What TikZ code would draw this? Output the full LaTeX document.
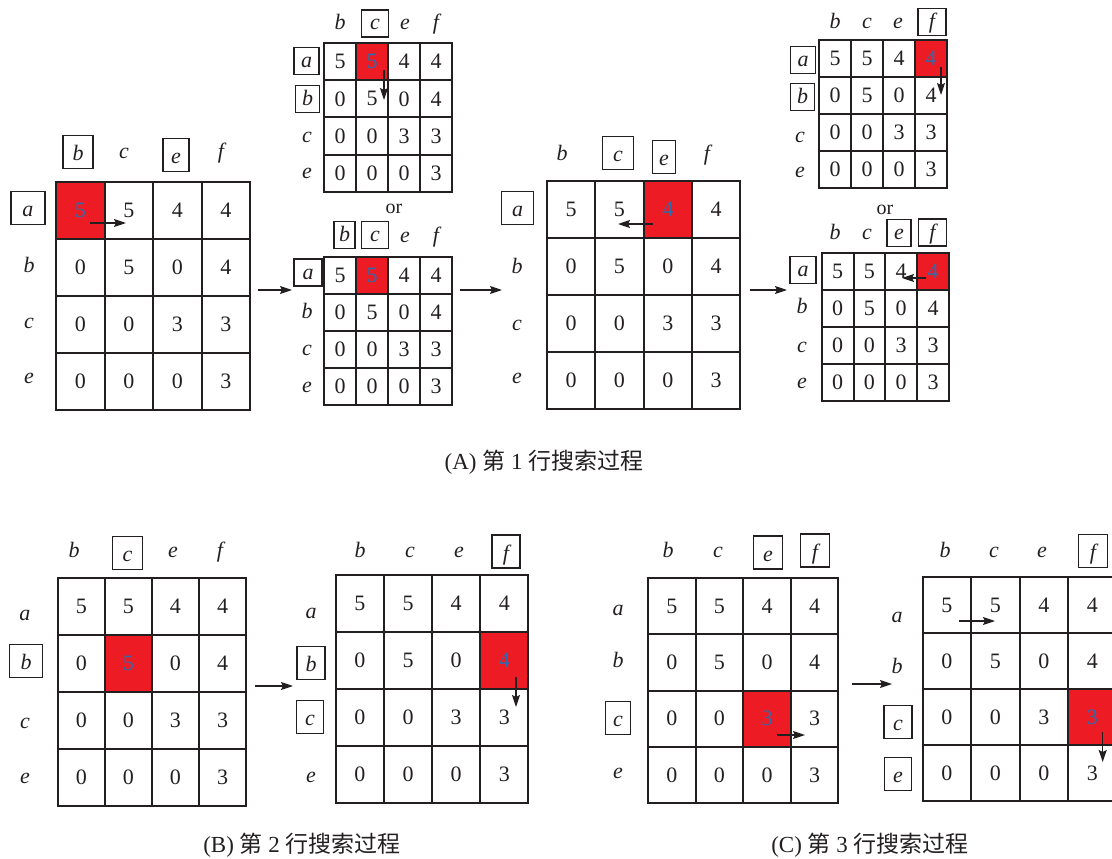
\documentclass[tikz,border=0pt]{standalone}
\usepackage{fontspec}
\setmainfont{Liberation Serif}
\newfontfamily\cjk{Noto Sans CJK SC}
\usetikzlibrary{arrows.meta}
\definecolor{myred}{HTML}{ED1C24}
\definecolor{myblue}{HTML}{2B6CB0}
\definecolor{ink}{HTML}{231F20}
\tikzset{
 cell/.style={inner sep=0pt,font=\fontsize{22}{24}\selectfont,text=ink},
 gridline/.style={draw=ink,line width=2pt,line cap=rect},
 lab/.style={inner sep=0pt,font=\fontsize{22}{24}\selectfont\itshape,text=ink,text height=15pt,text depth=4pt},
 bigbox/.style={lab,draw=ink,line width=1.6pt,text height=25pt,text depth=8pt},
 smallbox/.style={lab,draw=ink,line width=1.5pt,text height=20pt,text depth=7pt},
 arr/.style={draw=ink,line width=1.3pt,-{Stealth[length=12pt,width=8pt,inset=2pt]}},
 captext/.style={font=\fontsize{23}{25}\selectfont,text=ink,inner sep=0pt},
 ortext/.style={font=\fontsize{20}{22}\selectfont,text=ink,inner sep=0pt},
}
\newcommand\mymat[7]{%
 \foreach \v [count=\i from 0] in {5,5,4,4,0,5,0,4,0,0,3,3,0,0,0,3}{%
  \pgfmathtruncatemacro\rr{div(\i,4)+1}%
  \pgfmathtruncatemacro\cc{mod(\i,4)+1}%
  \pgfmathtruncatemacro\isred{(\rr==#6)*(\cc==#7)}%
  \ifnum\isred=1\relax
   \node[cell,fill=myred,text=myblue,minimum width=#4pt,minimum height=#5pt] (#1-\rr-\cc) at ({#2+(\cc-0.5)*#4},{#3+(\rr-0.5)*#5}) {\v};
  \else
   \node[cell,minimum width=#4pt,minimum height=#5pt] (#1-\rr-\cc) at ({#2+(\cc-0.5)*#4},{#3+(\rr-0.5)*#5}) {\v};
  \fi
 }
 \pgfmathsetmacro\xa{round(#2)}\pgfmathsetmacro\xb{round(#2+4*#4)}%
 \pgfmathsetmacro\ya{round(#3)}\pgfmathsetmacro\yb{round(#3+4*#5)}%
 \foreach \k in {0,...,4}{%
  \pgfmathsetmacro\xk{round(#2+\k*#4)}%
  \pgfmathsetmacro\yk{round(#3+\k*#5)}%
  \draw[gridline] (\xk,\ya) -- (\xk,\yb);
  \draw[gridline] (\xa,\yk) -- (\xb,\yk);
 }}
\begin{document}
\begin{tikzpicture}[x=1pt,y=-1pt]
\useasboundingbox (0,0) rectangle (1112,859);

% ---------------- A1
\mymat{A1}{56}{182}{48.5}{57}{1}{1}
\node[bigbox,minimum width=30pt] (A1hb) at (78,152) {b};
\node[lab] (A1hc) at (124,153) {c};
\node[bigbox,minimum width=26pt] (A1he) at (176,155) {e};
\node[lab] (A1hf) at (221,153) {f};
\node[bigbox,minimum width=34pt] (A1ra) at (28,208) {a};
\node[lab] (A1rb) at (29,267) {b};
\node[lab] (A1rc) at (29,323) {c};
\node[lab] (A1re) at (29,378) {e};
\coordinate (A1s) at (90,223); \coordinate (A1t) at (126,223);
\draw[arr] (A1s) -- (A1t);

% ---------------- A2
\mymat{A2}{324}{43}{32}{37.2}{1}{2}
\node[lab] (A2hb) at (340,24) {b};
\node[smallbox,minimum width=27pt] (A2hc) at (375,23.5) {c};
\node[lab] (A2he) at (405,24) {e};
\node[lab] (A2hf) at (436,24) {f};
\node[smallbox,minimum width=25pt] (A2ra) at (306.5,61) {a};
\node[smallbox,minimum width=24pt] (A2rb) at (307.5,99) {b};
\node[lab] (A2rc) at (307,137) {c};
\node[lab] (A2re) at (307,173) {e};
\coordinate (A2s) at (384,70); \coordinate (A2t) at (384,100);
\draw[arr] (A2s) -- (A2t);
\node[ortext] (or1) at (394,209) {or};

% ---------------- A3
\mymat{A3}{324}{257}{32}{37}{1}{2}
\node[smallbox,minimum width=21pt] (A3hb) at (344.5,235) {b};
\node[smallbox,minimum width=27pt] (A3hc) at (375,235) {c};
\node[lab] (A3he) at (405,237) {e};
\node[lab] (A3hf) at (436,237) {f};
\node[smallbox,minimum width=28pt] (A3ra) at (308,272.5) {a};
\node[lab] (A3rb) at (307,313) {b};
\node[lab] (A3rc) at (307,350) {c};
\node[lab] (A3re) at (307,387) {e};

% ---------------- A4
\mymat{A4}{547}{181}{48.3}{57}{1}{3}
\node[lab] (A4hb) at (562,155) {b};
\node[bigbox,minimum width=31pt] (A4hc) at (618,153) {c};
\node[bigbox,minimum width=23pt] (A4he) at (664,157) {e};
\node[lab] (A4hf) at (707,155) {f};
\node[bigbox,minimum width=32pt] (A4ra) at (517.5,208) {a};
\node[lab] (A4rb) at (517,268) {b};
\node[lab] (A4rc) at (517,325) {c};
\node[lab] (A4re) at (517,378) {e};
\coordinate (A4s) at (653,224); \coordinate (A4t) at (618,224);
\draw[arr] (A4s) -- (A4t);

% ---------------- A5
\mymat{A5}{819}{40}{32}{37}{1}{4}
\node[lab] (A5hb) at (835,23) {b};
\node[lab] (A5hc) at (867,23) {c};
\node[lab] (A5he) at (898,23) {e};
\node[smallbox,minimum width=28pt] (A5hf) at (932,22) {f};
\node[smallbox,minimum width=25pt] (A5ra) at (803,60) {a};
\node[smallbox,minimum width=24pt] (A5rb) at (802.5,97) {b};
\node[lab] (A5rc) at (800,137) {c};
\node[lab] (A5re) at (800,172) {e};
\coordinate (A5s) at (941,67); \coordinate (A5t) at (941,95);
\draw[arr] (A5s) -- (A5t);
\node[ortext] (or2) at (885,210) {or};

% ---------------- A6
\mymat{A6}{821.7}{252.7}{31.8}{37}{1}{4}
\node[lab] (A6hb) at (835,234) {b};
\node[lab] (A6hc) at (867,234) {c};
\node[smallbox,minimum width=24pt] (A6he) at (899,233) {e};
\node[smallbox,minimum width=28pt] (A6hf) at (932.5,232.5) {f};
\node[smallbox,minimum width=26pt] (A6ra) at (803,270) {a};
\node[lab] (A6rb) at (802,308) {b};
\node[lab] (A6rc) at (802,347) {c};
\node[lab] (A6re) at (802,383) {e};
\coordinate (A6s) at (926,278); \coordinate (A6t) at (902,278);
\draw[arr] (A6s) -- (A6t);

% arrows between A matrices
\coordinate (AA1) at (258,290); \coordinate (AA2) at (292,290);
\draw[arr] (AA1) -- (AA2);
\coordinate (AB1) at (460,290); \coordinate (AB2) at (502,290);
\draw[arr] (AB1) -- (AB2);
\coordinate (AC1) at (750,290); \coordinate (AC2) at (787,290);
\draw[arr] (AC1) -- (AC2);

\node[captext] (capA) at (544,462) {(A) {\cjk 第} 1 {\cjk 行搜索过程}};

% ---------------- B1
\mymat{B1}{57.7}{577.7}{47.1}{57.1}{2}{2}
\node[lab] (B1hb) at (74,552) {b};
\node[bigbox,minimum width=30pt] (B1hc) at (127.5,553) {c};
\node[lab] (B1he) at (173,552) {e};
\node[lab] (B1hf) at (220,552) {f};
\node[lab] (B1ra) at (25,615) {a};
\node[bigbox,minimum width=33pt] (B1rb) at (26,661) {b};
\node[lab] (B1rc) at (25,723) {c};
\node[lab] (B1re) at (25,778) {e};

% ---------------- B2
\mymat{B2}{335.7}{575}{48.2}{57}{2}{4}
\node[lab] (B2hb) at (360,552) {b};
\node[lab] (B2hc) at (410,552) {c};
\node[lab] (B2he) at (459,552) {e};
\node[bigbox,minimum width=28pt] (B2hf) at (506,551.5) {f};
\node[lab] (B2ra) at (311,613) {a};
\node[bigbox,minimum width=28pt] (B2rb) at (311,663) {b};
\node[bigbox,minimum width=27pt] (B2rc) at (310,717) {c};
\node[lab] (B2re) at (311,777) {e};
\coordinate (B2s) at (516,677); \coordinate (B2t) at (516,707);
\draw[arr] (B2s) -- (B2t);
\coordinate (BB1) at (255,686); \coordinate (BB2) at (293,686);
\draw[arr] (BB1) -- (BB2);

\node[captext] (capB) at (302,845) {(B) {\cjk 第} 2 {\cjk 行搜索过程}};

% ---------------- C1
\mymat{C1}{648}{578}{47.6}{56.3}{3}{3}
\node[lab] (C1hb) at (668,552) {b};
\node[lab] (C1hc) at (718,552) {c};
\node[bigbox,minimum width=29pt] (C1he) at (768,552.5) {e};
\node[bigbox,minimum width=29pt] (C1hf) at (815,550.5) {f};
\node[lab] (C1ra) at (618,610) {a};
\node[lab] (C1rb) at (618,662) {b};
\node[bigbox,minimum width=25pt] (C1rc) at (618,718) {c};
\node[lab] (C1re) at (618,773) {e};
\coordinate (C1s) at (777,735); \coordinate (C1t) at (805,735);
\draw[arr] (C1s) -- (C1t);
\coordinate (CC1) at (852,684); \coordinate (CC2) at (892,684);
\draw[arr] (CC1) -- (CC2);

% ---------------- C2
\mymat{C2}{922.7}{577}{48.5}{56}{3}{4}
\node[lab] (C2hb) at (945,552) {b};
\node[lab] (C2hc) at (994,552) {c};
\node[lab] (C2he) at (1042,552) {e};
\node[bigbox,minimum width=29pt] (C2hf) at (1093,551) {f};
\node[lab] (C2ra) at (897,617) {a};
\node[lab] (C2rb) at (897,668) {b};
\node[bigbox,minimum width=28pt] (C2rc) at (898,722) {c};
\node[bigbox,minimum width=27pt] (C2re) at (898,774) {e};
\coordinate (C2s) at (959,621); \coordinate (C2t) at (995,621);
\draw[arr] (C2s) -- (C2t);
\coordinate (C2u) at (1102.7,732); \coordinate (C2v) at (1102.7,762);
\draw[arr] (C2u) -- (C2v);

\node[captext] (capC) at (870,845) {(C) {\cjk 第} 3 {\cjk 行搜索过程}};
\end{tikzpicture}
\end{document}
